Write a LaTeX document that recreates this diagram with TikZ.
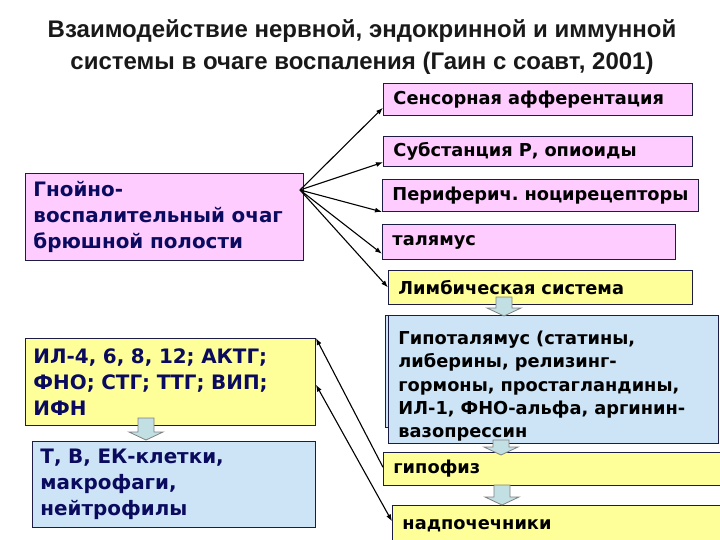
\documentclass[tikz,border=0pt]{standalone}
\usepackage{fontspec}
\setmainfont{DejaVu Sans}
\newfontfamily\titlefont{Liberation Sans}
\usetikzlibrary{arrows.meta,calc}
\definecolor{pinkfill}{HTML}{FFCCFF}
\definecolor{yellowfill}{HTML}{FFFF99}
\definecolor{bluefill}{HTML}{CCE4F5}
\definecolor{boxline}{HTML}{1C1C44}
\definecolor{navytext}{HTML}{0A0A5E}
\definecolor{blockfill}{HTML}{C2DFE3}
\tikzset{
    box base/.style={
        draw=boxline,
        line width=0.9pt,
        anchor=north west,
        inner xsep=10pt,
        inner ysep=0pt,
        align=left,
        font=\frenchspacing\bfseries\fontsize{17.8}{23.2}\selectfont
    },
    pink box/.style={box base, fill=pinkfill},
    yellow box/.style={box base, fill=yellowfill},
    blue box/.style={box base, fill=bluefill},
    left box/.style={inner xsep=8pt, text=navytext, font=\frenchspacing\bfseries\fontsize{19.9}{26}\selectfont},
    thin arrow/.style={-{Latex[length=7pt,width=5pt]}, line width=1.1pt},
    both arrow/.style={{Latex[length=7pt,width=5pt]}-{Latex[length=7pt,width=5pt]}, line width=1.1pt},
    block arrow/.style={draw=gray, fill=blockfill, line width=0.8pt}
}
% fat down arrow: x, top of shaft, tip
\newcommand{\downblock}[3]{%
    \draw[block arrow] (#1-8,#2) -- (#1+8,#2) -- (#1+8,#3-8) -- (#1+17,#3-8)
        -- (#1,#3) -- (#1-17,#3-8) -- (#1-8,#3-8) -- cycle;}

\begin{document}
\begin{tikzpicture}[x=1pt,y=-1pt]
    \useasboundingbox[fill=white] (0,0) rectangle (720,540);

    \node[font=\titlefont\bfseries\fontsize{24}{32}\selectfont, align=center, text=black!90] (title) at (362,47)
        {Взаимодействие нервной, эндокринной и иммунной\\системы в очаге воспаления (Гаин с соавт, 2001)};

    % right column
    \node[pink box, text width=289pt, minimum height=32pt] (sens) at (383,83) {Сенсорная афферентация};
    \node[pink box, text width=289pt, minimum height=30pt] (subst) at (383,136) {Субстанция Р, опиоиды};
    \node[pink box, text width=296pt, minimum height=32pt] (peri) at (382,179) {Периферич. ноцирецепторы};
    \node[pink box, text width=273pt, minimum height=35pt] (thal) at (382,224) {талямус};
    \node[yellow box, text width=284pt, minimum height=34pt] (limb) at (388,270) {Лимбическая система};
    \node[blue box, minimum width=333pt, minimum height=112pt] (hypoback) at (385,315) {};
    \node[blue box, text width=310pt, minimum height=128pt] (hypoth) at (388,315)
        {\rule{0pt}{27pt}Гипоталямус (статины,\\либерины, релизинг-\\гормоны, простагландины,\\ИЛ-1, ФНО-альфа, аргинин-\\вазопрессин};
    \node[yellow box, text width=317pt, minimum height=33pt] (hypoph) at (383,452) {гипофиз};
    \node[yellow box, text width=308pt, minimum height=40pt] (adren) at (392,505) {надпочечники};

    % left column
    \node[pink box, left box, text width=262pt, minimum height=87pt] (focus) at (25,173)
        {Гнойно-\\воспалительный очаг\\брюшной полости};
    \node[yellow box, left box, text width=274pt, minimum height=87pt] (cyto) at (25,338)
        {ИЛ-4, 6, 8, 12; АКТГ;\\ФНО; СТГ; ТТГ; ВИП;\\ИФН};
    \node[blue box, left box, text width=267pt, minimum height=86pt] (cells) at (32,441)
        {Т, В, ЕК-клетки,\\макрофаги,\\нейтрофилы};

    % fan of arrows from the focus
    \coordinate (fan) at (300,190);
    \draw[thin arrow] (fan) -- ($(sens.south west)!0.25!(sens.north west)$);
    \draw[thin arrow] (fan) -- ($(subst.south west)!0.15!(subst.north west)$);
    \draw[thin arrow] (fan) -- (peri.south west);
    \draw[thin arrow] (fan) -- ($(thal.south west)!0.17!(thal.north west)$);
    \draw[thin arrow] (fan) -- (limb.west);

    % links back to the cytokines
    \draw[thin arrow] ($(hypoph.south west)!0.55!(hypoph.north west)$) -- (cyto.north east);
    \draw[both arrow] ($(cyto.north east)!0.53!(cyto.south east)$) -- ($(adren.north west)!0.4!(adren.south west)$);

    % block arrows
    \downblock{146}{418}{440}
    \downblock{504}{297}{316}
    \downblock{501}{440}{455}
    \downblock{502}{485}{505}
\end{tikzpicture}
\end{document}
